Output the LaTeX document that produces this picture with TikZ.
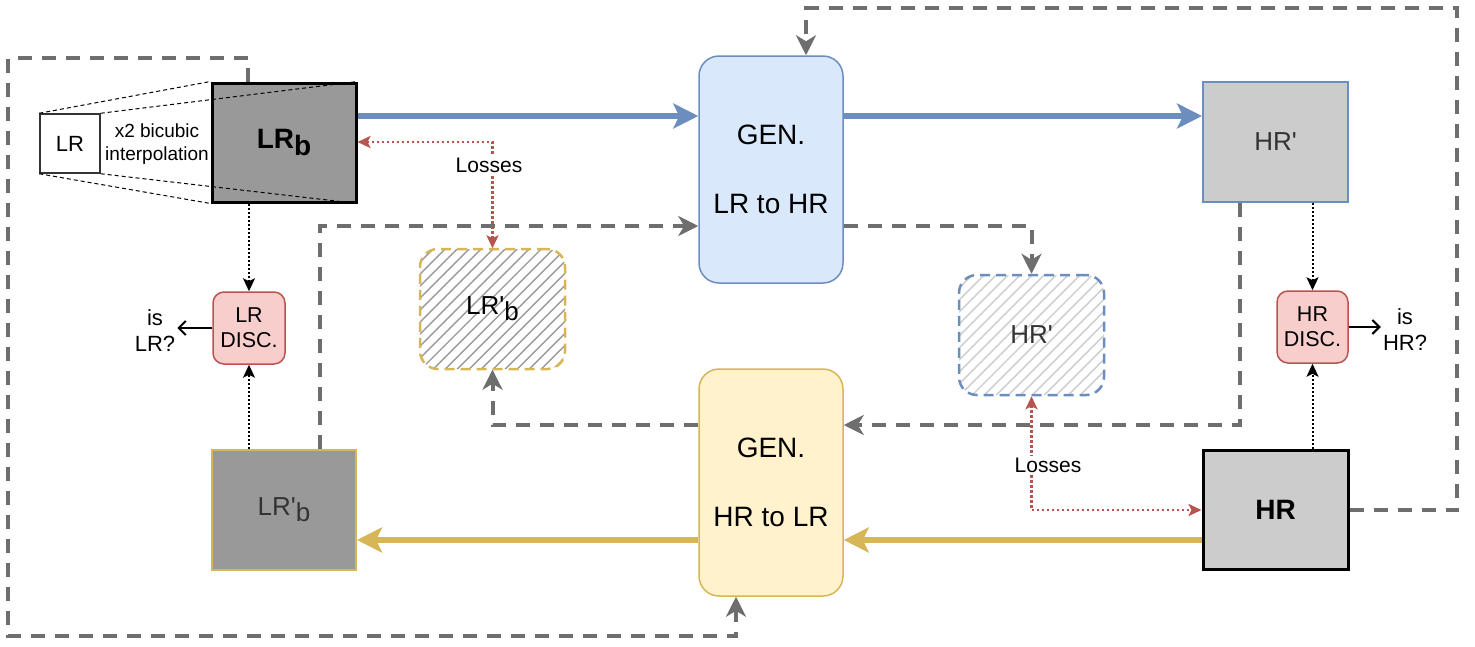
\documentclass[tikz,border=0pt]{standalone}
\usepackage{fontspec}
\setmainfont{Liberation Sans}[Ligatures=TeXOff]
\usetikzlibrary{arrows.meta,patterns.meta,calc}
\definecolor{blueS}{HTML}{6C8EBF}
\definecolor{blueF}{HTML}{DAE8FC}
\definecolor{yelS}{HTML}{D6B656}
\definecolor{yelF}{HTML}{FFF2CC}
\definecolor{redS}{HTML}{B85450}
\definecolor{redF}{HTML}{F8CECC}
\definecolor{dgray}{HTML}{999999}
\definecolor{lgray}{HTML}{CCCCCC}
\definecolor{lineg}{HTML}{6E6E6E}
\definecolor{txt}{HTML}{333333}
\newcommand{\apos}{'}
\begin{document}
\begin{tikzpicture}[x=1pt,y=-1pt,
  every node/.style={inner sep=0pt, align=center},
  big/.style={font=\fontsize{26}{30}\selectfont},
  sqbox/.style={draw, minimum width=144pt, minimum height=120pt, big},
  genbox/.style={draw, rounded corners=20pt, minimum width=144pt, minimum height=227pt, line width=1.5pt, font=\fontsize{28}{32}\selectfont},
  discbox/.style={draw=redS, fill=redF, rounded corners=11pt, minimum width=72pt, minimum height=72pt, line width=1.5pt, font=\fontsize{21.5}{25}\selectfont},
  hatchbox/.style={rounded corners=18pt, minimum width=145pt, minimum height=120pt, line width=2.5pt, dash pattern=on 10pt off 6pt, big},
  gdash/.style={draw=lineg, line width=4pt, dash pattern=on 14pt off 10pt, -{Stealth[length=20pt,width=20pt,inset=6pt]}},
  fatarrow/.style={line width=6pt, -{Stealth[length=25pt,width=25pt,inset=6pt]}},
  bdot/.style={draw=black, line width=2pt, dash pattern=on 2pt off 2pt, -{Stealth[length=13pt,width=12pt,inset=3pt]}},
  rdot/.style={draw=redS, line width=2.5pt, dash pattern=on 2.5pt off 2.5pt, {Stealth[length=13pt,width=12pt,inset=3pt]}-{Stealth[length=13pt,width=12pt,inset=3pt]}},
  openarrow/.style={draw=black, line width=2pt, -{Straight Barb[length=7pt,width=14pt]}},
  losslabel/.style={fill=white, inner sep=2pt, font=\fontsize{21}{25}\selectfont},
  thindash/.style={draw=black, line width=1pt, dash pattern=on 4pt off 3pt}
]
\useasboundingbox (0,0) rectangle (1475,646);

% helper coordinates
\coordinate (yb) at (0,116);
\coordinate (yy) at (0,540);
\coordinate (yl1) at (0,142);
\coordinate (yl2) at (0,510);
\coordinate (g1a) at (248,58);
\coordinate (g1b) at (8,58);
\coordinate (g1c) at (8,636);
\coordinate (g1d) at (736,636);
\coordinate (g2a) at (320,226);
\coordinate (g3a) at (492.5,425);
\coordinate (g4a) at (1031.5,226);
\coordinate (g5a) at (1240,425);
\coordinate (g6a) at (1457,510);
\coordinate (g6b) at (1457,8);
\coordinate (g6c) at (806,8);

% nodes
\node[sqbox, fill=dgray, draw=black, line width=3pt, minimum height=119pt] (lrb) at (284,142.5)
  {\bfseries\fontsize{28}{32}\selectfont LR\raisebox{-6pt}{b}};
\node[draw=black!80, fill=white, line width=1.5pt, minimum width=60pt, minimum height=59pt,
  font=\fontsize{22}{26}\selectfont] (lr) at (70,143.5) {LR};
\node[font=\fontsize{19}{22.7}\selectfont] (interp) at (157,144) {x2 bicubic\\interpolation};
\draw[thindash] (lr.north west) -- (lrb.north west);
\draw[thindash] (lr.north east) -- (lrb.north east);
\draw[thindash] (lr.south west) -- (lrb.south west);
\draw[thindash] (lr.south east) -- (lrb.south east);

\node[genbox, fill=blueF, draw=blueS] (gen1) at (771,169.5) {GEN.\\[37pt]LR to HR};
\node[genbox, fill=yelF, draw=yelS] (gen2) at (771,482.5) {GEN.\\[37pt]HR to LR};
\node[sqbox, fill=lgray, draw=blueS, line width=2pt, text=txt, minimum width=145pt] (hrp) at (1275.5,142) {HR\apos};
\node[sqbox, fill=dgray, draw=yelS, line width=2pt, text=txt] (lrpb) at (284,510) {LR\apos\raisebox{-6pt}{b}};
\node[sqbox, fill=lgray, draw=black, line width=3pt, minimum width=145pt, minimum height=119pt] (hr) at (1275.5,509.5)
  {\bfseries\fontsize{28}{32}\selectfont HR};
\node[discbox] (lrdisc) at (249,328) {LR\\DISC.};
\node[discbox, minimum width=71pt] (hrdisc) at (1312.5,327) {HR\\DISC.};
\node[inner sep=2pt, font=\fontsize{22}{26}\selectfont] (islr) at (155,331) {is\\LR?};
\node[inner sep=2pt, font=\fontsize{22}{26}\selectfont] (ishr) at (1405,330) {is\\HR?};

\node[hatchbox, draw=yelS, pattern={Lines[angle=45,distance=8.5pt,line width=1.4pt]}, pattern color=dgray] (lrpbh) at (492.5,309)
  {LR\apos\raisebox{-6pt}{b}};
\node[hatchbox, draw=blueS, pattern={Lines[angle=45,distance=8.5pt,line width=1.4pt]}, pattern color=lgray, text=txt] (hrph) at (1031.5,335)
  {HR\apos};

% gray dashed connectors
\draw[gdash] (lrb.north -| g1a) -- (g1a) -- (g1b) -- (g1c) -- (g1d) -- (gen2.south -| g1d);
\draw[gdash] (lrpb.north -| g2a) -- (g2a) -- (gen1.west |- g2a);
\draw[gdash] (gen2.west |- g3a) -- (g3a) -- (lrpbh.south);
\draw[gdash] (gen1.east |- g4a) -- (g4a) -- (hrph.north);
\draw[gdash] (hrp.south -| g5a) -- (g5a) -- (gen2.east |- g5a);
\draw[gdash] (hr.east |- g6a) -- (g6a) -- (g6b) -- (g6c) -- (gen1.north -| g6c);

% main flows
\draw[fatarrow, draw=blueS, color=blueS] (lrb.east |- yb) -- (gen1.west |- yb);
\draw[fatarrow, draw=blueS, color=blueS] (gen1.east |- yb) -- (hrp.west |- yb);
\draw[fatarrow, draw=yelS, color=yelS] (hr.west |- yy) -- (gen2.east |- yy);
\draw[fatarrow, draw=yelS, color=yelS] (gen2.west |- yy) -- (lrpb.east |- yy);

% discriminators
\draw[bdot] (lrb.south -| lrdisc.north) -- (lrdisc.north);
\draw[bdot] (lrpb.north -| lrdisc.south) -- (lrdisc.south);
\draw[bdot] (hrp.south -| hrdisc.north) -- (hrdisc.north);
\draw[bdot] (hr.north -| hrdisc.south) -- (hrdisc.south);
\draw[openarrow] (lrdisc.west) -- (lrdisc.west -| islr.east);
\draw[openarrow] (hrdisc.east) -- (hrdisc.east -| ishr.west);

% losses
\draw[rdot] (lrb.east |- yl1) -| (lrpbh.north);
\node[losslabel] (loss1) at (489,165) {Losses};
\draw[rdot] (hrph.south) |- (hr.west |- yl2);
\node[losslabel] (loss2) at (1048,465) {Losses};
\end{tikzpicture}
\end{document}
